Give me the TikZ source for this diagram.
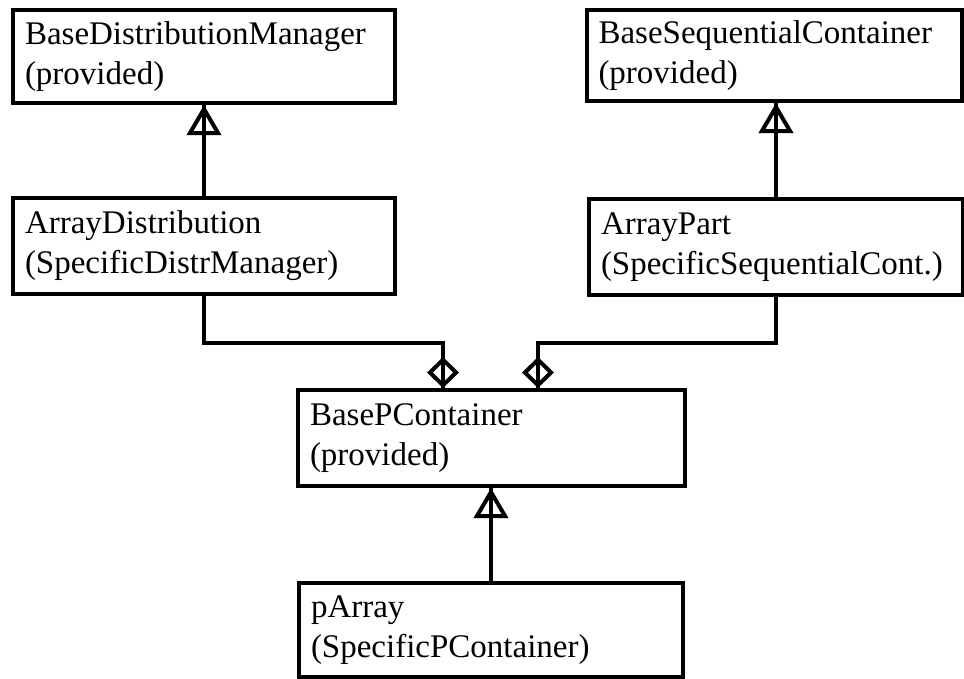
\documentclass[tikz,border=0pt]{standalone}
\usepackage{fontspec}
\setmainfont{Liberation Serif}
\usetikzlibrary{arrows.meta}
\begin{document}
\begin{tikzpicture}[x=1pt,y=-1pt,
  cls/.style={draw, line width=4pt, align=left, inner sep=0pt,
    font=\fontsize{33}{40}\selectfont},
  wire/.style={line width=4pt},
  inherit/.style={wire, -{Triangle[open, length=30pt, width=34pt]}},
  aggr/.style={wire, -{Diamond[open, length=31pt, width=32pt]}}]
\useasboundingbox (0,0) rectangle (964,678);

% class boxes
\node[cls, minimum width=382pt, minimum height=93pt, text width=358pt]
  (bdm) at (204,56.5) {BaseDistributionManager\\(provided)};
\node[cls, minimum width=375pt, minimum height=91pt, text width=351pt]
  (bsc) at (774,55.5) {BaseSequentialContainer\\(provided)};
\node[cls, minimum width=382pt, minimum height=96pt, text width=358pt]
  (ad) at (204,246) {ArrayDistribution\\(SpecificDistrManager)};
\node[cls, minimum width=374pt, minimum height=96pt, text width=350pt]
  (ap) at (776,247) {ArrayPart\\(SpecificSequentialCont.)};
\node[cls, minimum width=387pt, minimum height=96pt, text width=363pt]
  (bpc) at (491.5,438) {BasePContainer\\(provided)};
\node[cls, minimum width=384pt, minimum height=94pt, text width=360pt]
  (pa) at (491,630) {pArray\\(SpecificPContainer)};

% elbow points of the aggregation wires
\coordinate (kl) at (443,343);
\coordinate (kr) at (538,343);

% generalisation
\draw[wire] (ad.north) -- (ad.north |- bdm.south);
\draw[inherit] (ad.north) -- (ad.north |- bdm.south);
\draw[wire] (ap.north) -- (ap.north |- bsc.south);
\draw[inherit] (ap.north) -- (ap.north |- bsc.south);
\draw[wire] (pa.north) -- (pa.north |- bpc.south);
\draw[inherit] (pa.north) -- (pa.north |- bpc.south);

% aggregation
\draw[wire] (ad.south) |- (kl) -- (kl |- bpc.north);
\draw[aggr] (kl) -- (kl |- bpc.north);
\draw[wire] (ap.south) |- (kr) -- (kr |- bpc.north);
\draw[aggr] (kr) -- (kr |- bpc.north);
\end{tikzpicture}
\end{document}
